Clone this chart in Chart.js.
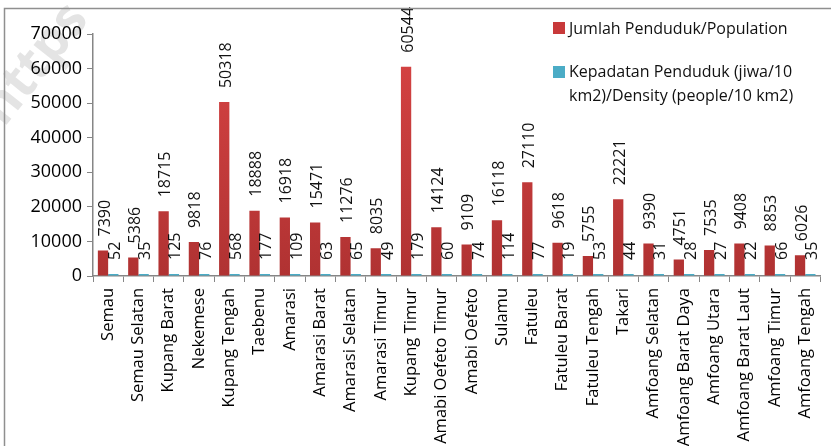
<!DOCTYPE html>
<html>
<head>
<meta charset="utf-8">
<script src="https://cdn.jsdelivr.net/npm/chart.js@4.4.1/dist/chart.umd.min.js"></script>
<style>
  html, body { margin: 0; padding: 0; background: #fff; }
  #wrap { width: 831px; height: 446px; }
</style>
</head>
<body>
<div id="wrap"><canvas id="chart" width="831" height="446"></canvas></div>
<script>
// Kecamatan (districts) and their values
const districts = [
    'Semau', 'Semau Selatan', 'Kupang Barat', 'Nekemese', 'Kupang Tengah', 'Taebenu',
    'Amarasi', 'Amarasi Barat', 'Amarasi Selatan', 'Amarasi Timur', 'Kupang Timur',
    'Amabi Oefeto Timur', 'Amabi Oefeto', 'Sulamu', 'Fatuleu', 'Fatuleu Barat',
    'Fatuleu Tengah', 'Takari', 'Amfoang Selatan', 'Amfoang Barat Daya', 'Amfoang Utara',
    'Amfoang Barat Laut', 'Amfoang Timur', 'Amfoang Tengah'
];
const population = [
    7390, 5386, 18715, 9818, 50318, 18888, 16918, 15471, 11276, 8035, 60544, 14124,
    9109, 16118, 27110, 9618, 5755, 22221, 9390, 4751, 7535, 9408, 8853, 6026
];
const density = [
    52, 35, 125, 76, 568, 177, 109, 63, 65, 49, 179, 60,
    74, 114, 77, 19, 53, 44, 31, 28, 27, 22, 66, 35
];
const populationName = 'Jumlah Penduduk/Population';
const densityName = ['Kepadatan Penduduk (jiwa/10', 'km2)/Density (people/10 km2)'];

const FONT = '"Open Sans", "Liberation Sans", sans-serif';
const RED = '#c8393a';
const BLUE = '#4bacc6';
const AXIS = '#868686';

// Faint watermark + outer frame
const backdrop = {
    id: 'backdrop',
    beforeDraw(chart) {
        const ctx = chart.ctx;
        ctx.save();
        ctx.fillStyle = '#ffffff';
        ctx.fillRect(0, 0, chart.width, chart.height);
        ctx.translate(4, 128);
        ctx.rotate(-0.9);
        ctx.font = 'bold 52px ' + FONT;
        ctx.fillStyle = '#e4e4e4';
        ctx.fillText('https', 0, 0);
        ctx.restore();
    },
    afterDraw(chart) {
        const ctx = chart.ctx;
        ctx.save();
        ctx.strokeStyle = '#8f8f8f';
        ctx.lineWidth = 1.5;
        ctx.beginPath();
        ctx.moveTo(4.5, chart.height + 5);
        ctx.lineTo(4.5, 8.5);
        ctx.lineTo(chart.width + 5, 8.5);
        ctx.stroke();
        ctx.restore();
    }
};

// Vertical value labels above every bar
const valueLabels = {
    id: 'valueLabels',
    afterDatasetsDraw(chart) {
        const ctx = chart.ctx;
        ctx.save();
        ctx.font = '16px ' + FONT;
        ctx.fillStyle = '#111';
        ctx.textAlign = 'left';
        ctx.textBaseline = 'middle';
        chart.data.datasets.forEach((ds, i) => {
            chart.getDatasetMeta(i).data.forEach((bar, j) => {
                ctx.save();
                ctx.translate(bar.x + 2, bar.y - 14);
                ctx.rotate(-Math.PI / 2);
                ctx.fillText(String(ds.data[j]), 0, 0);
                ctx.restore();
            });
        });
        ctx.restore();
    }
};

// Legend sitting inside the plot, top right
const boxLegend = {
    id: 'boxLegend',
    afterDraw(chart) {
        const ctx = chart.ctx;
        const x = chart.chartArea.left + 460;
        ctx.save();
        ctx.font = '16px ' + FONT;
        ctx.textBaseline = 'middle';
        ctx.fillStyle = RED;
        ctx.fillRect(x, 22, 12, 12);
        ctx.fillStyle = BLUE;
        ctx.fillRect(x, 66, 12, 12);
        ctx.fillStyle = '#111';
        ctx.fillText(populationName, x + 16, 29);
        ctx.fillText(densityName[0], x + 16, 72);
        ctx.fillText(densityName[1], x + 16, 96);
        ctx.restore();
    }
};

function redFill(context) {
    const area = context.chart.chartArea;
    if (!area) return RED;
    const g = context.chart.ctx.createLinearGradient(0, area.top, 0, area.bottom);
    g.addColorStop(0, '#d84444');
    g.addColorStop(1, '#b03232');
    return g;
}

new Chart(document.getElementById('chart'), {
    type: 'bar',
    data: {
        labels: districts,
        datasets: [
            { label: populationName, data: population, backgroundColor: redFill },
            { label: densityName.join(' '), data: density, backgroundColor: BLUE, minBarLength: 2 }
        ]
    },
    options: {
        responsive: false,
        animation: false,
        events: [],
        layout: { padding: { left: 0, right: -3, top: 34, bottom: 0 } },
        datasets: {
            bar: { categoryPercentage: 0.68, barPercentage: 1.0 }
        },
        plugins: {
            legend: { display: false },
            tooltip: { enabled: false }
        },
        scales: {
            x: {
                afterFit: s => { s.height = 170; },
                grid: {
                    offset: true,
                    drawOnChartArea: false,
                    drawTicks: true,
                    tickLength: 6,
                    color: AXIS
                },
                border: { color: AXIS, width: 1.5 },
                ticks: {
                    autoSkip: false,
                    minRotation: 90,
                    maxRotation: 90,
                    padding: 6,
                    color: '#000',
                    font: { family: FONT, size: 16.5 }
                }
            },
            y: {
                min: 0,
                max: 70000,
                afterFit: s => { s.width = 93; },
                grid: {
                    drawOnChartArea: false,
                    drawTicks: true,
                    tickLength: 6,
                    color: AXIS
                },
                border: { color: AXIS, width: 1.5 },
                ticks: {
                    stepSize: 10000,
                    padding: 5,
                    color: '#000',
                    font: { family: FONT, size: 18 },
                    callback: v => String(v)
                }
            }
        }
    },
    plugins: [backdrop, valueLabels, boxLegend]
});
</script>
</body>
</html>
